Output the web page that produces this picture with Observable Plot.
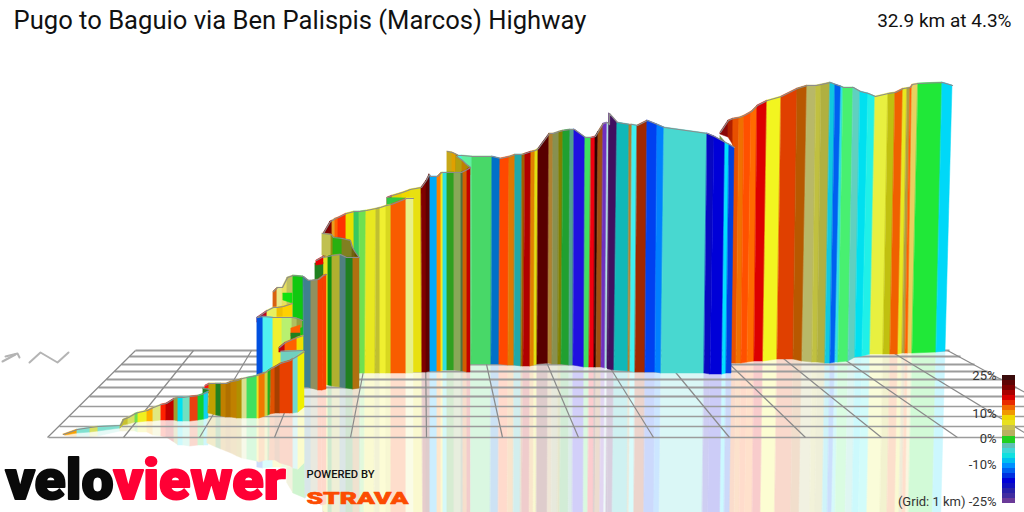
<!DOCTYPE html>
<html><head><meta charset="utf-8">
<style>html,body{margin:0;padding:0;background:#fff;overflow:hidden}svg{display:block}</style>
<script src="https://cdn.jsdelivr.net/npm/d3@7"></script>
<script src="https://cdn.jsdelivr.net/npm/@observablehq/plot@0.6"></script>
</head><body>
<div id="chart"></div>
<script>
// Road walls: vertical edge positions, top and floor heights, segment colours
const cTopX=[733,739,744,751,757,767,781,797,807,816,821,830,835,841,843,853,860,868,875,888,895,903,907,910,912,918,942,952];
const cTopY=[118,117,115,111,105,100,96,88,85,85,84,82,84,86,87,87,91,93,96,93,92,88,87.5,87,84,83,82,85];
const cBaseX=[730,736,741,747,754,763,777,793,802,812,817,825,830,835,838,848,855,862,870,883,890,898,902,905,908,912,936,945];
const cBaseY=[363,363,363,362,361,361,359,359,361,362,362,363,363,362,362,361,357,356,354,354,354,354,353,353,353,353,352,351];
const cFill=["#e85000","#f07000","#ff5000","#ff6a00","#dc0000","#f2f520","#e04000","#b85800","#b8b868","#c0c040","#b0b040","#10c8e0","#0060f0","#30e0e8","#48f070","#60d0c0","#00e0f0","#20f0e8","#e8f040","#c0c010","#f06000","#e8e820","#b0a040","#ff6000","#e8d060","#20e838","#00d8f8"];

const bTopX=[447,452,456,458,462,472,492,500,509,515,522,525,531,535,538,549,553,559,563,570,574,585,591,595,598,603,607,609,609,617,629,632,637,647,657,664,707,714,725,729,734];
const bTopY=[151,152,154,155,155,156,156,158,156,154,154,153,151,150,148,133,133,131,130,129,129,137,137,136,131,123,122,124,113,122,124,124,125,120,124,127,133,136,142,144,147];
const bBaseX=[447,452,456,459,463,471,491,499,508,514,521,523,530,534,537,548,552,558,561,569,573,584,589,594,596,601,605,607,608,614,628,630,635,645,655,661,704,710,722,726,731];
const bBaseY=[364,364,364,364,364,364,364,364,365,365,366,366,366,365,364,363,364,364,364,365,365,367,367,367,367,367,368,368,369,370,371,371,372,372,372,373,373,374,374,373,373];
const bFill=["#c8a818","#e0a000","#b08000","#40f0e0","#60f0a0","#48d868","#0070c8","#ff4800","#e07800","#20a8a8","#a06000","#b00000","#e08000","#e0e010","#580000","#b08030","#889050","#808000","#20a030","#50a090","#2010e0","#40e060","#f00010","#300000","#a05010","#7030c0","#b0e0e0","#401060","#401060","#10b8b8","#b08030","#40f0f0","#a02800","#0040f0","#0080ff","#48d8d0","#0808c0","#0000d8","#00e0ff","#0040e0"];

const dTopX=[387,392,402,410,421,426,429,430,437,441,443,447,454,461,463,467,470];
const dTopY=[197,195,192,189,187,180,174,176,176,172,172,172,172,172,171,169,167];
const dBaseX=[387,392,402,410,422,426,430,430,437,441,443,447,454,461,463,467,470];
const dBaseY=[372,372,372,372,372,372,371,371,371,371,370,370,370,371,371,372,372];
const dFill=["#d02020","#e8d000","#f0d800","#e8e010","#800000","#600000","#600000","#00a8f8","#ff8000","#f0e820","#30e0e0","#30a020","#88a858","#507040","#d06000","#c00000"];

const eTopX=[323,330,332,335,338,346,354,359,366,376,380,386,391,406,413];
const eTopY=[233,221,220,218,217,213,211,211,210,208,207,205,204,198,198];
const eBaseX=[323,330,332,335,338,346,354,360,365,375,380,386,391,406,413];
const eBaseY=[373,373,373,373,373,373,373,373,373,373,373,373,373,373,373];
const eFill=["#800000","#800000","#e8a020","#ff6000","#ff3000","#e8e000","#38c860","#70e050","#e8e820","#c0c030","#f0f030","#d8d820","#f85c00","#e8f088"];

const fTopX=[322,331,333,342,350,352,355,358];
const fTopY=[233,234,237,238,240,247,252,256];
const fBaseY=[255,257,257,258,258,258,258,258];
const fFill=["#c0c050","#909010","#28b010","#808020","#808020","#706010","#605000"];

const gTopX=[323,328,332,340,346,353,359];
const gTopY=[257,256,255,254,257,257,257];
const gBaseY=[384,385,386,387,388,389,388];
const gFill=["#e8e020","#109010","#b0b030","#508080","#208020","#b07010"];

const hTopX=[273,277,282,287,293,303,308,311,318,323,326];
const hTopY=[291,287,287,277,275,276,280,280,279,275,274];
const hBaseX=[273,277,282,287,293,304,308,311,318,322,326];
const hBaseY=[340,340,340,380,384,387,387,388,390,390,389];
const hFill=["#d86010","#e8e888","#e8e060","#c0c060","#10c810","#408090","#408090","#909060","#f84000","#f84000"];

const mTopX=[257,267,273,277,283,292];
const mTopY=[317,310,307,307,306,303];
const mBaseY=[322,320,320,320,320,320];
const mFill=["#c00020","#e8f060","#e8f060","#f0c000","#ffd000"];

const nTopX=[257,263,273,282,292];
const nTopY=[317,316,317,317,317];
const nBaseY=[392,392,392,392,392];
const nFill=["#0050e0","#50f0f0","#f0f030","#b8f070"];

const n2TopX=[292,297,302];
const n2TopY=[317,318,320];
const n2BaseY=[330,329,327];
const n2Fill=["#b0c060","#98a040"];

const qTopX=[279,285,297,303];
const qTopY=[347,342,337,335];
const qBaseY=[352,352,352,352];
const qFill=["#c00010","#ff6000","#f0e000"];

const kTopX=[63,77,90,98,120,123,128,135,138,147,153,161,166,174,178,183,190,198,204,208];
const kTopY=[434,429,427,426,425,419,417,413,412,410,407,404,403,398,397,397,396,395,393,391];
const kBaseX=[65,77,90,98,120,123,128,135,138,147,153,161,166,174,178,183,190,198,204,208];
const kBaseY=[435,433,432,431,428,425,424,422,422,421,421,420,420,420,421,421,421,420,419,418];
const kFill=["#f8a000","#80e0d0","#d8e060","#80e0d0","#c0c030","#c8c030","#d8e060","#70e050","#f0f020","#ffb000","#e0e880","#ff2000","#c00000","#a0a030","#00e0f0","#70e0c0","#e84010","#10d030","#10d0f0"];

const jTopX=[209,216,221,226,231,237,242,247,257,259,265,268,271,275,280,290,293,298,304];
const jTopY=[383,383,383,383,381,380,378,377,375,374,372,370,368,366,363,360,358,355,351];
const jBaseX=[208,216,221,226,231,237,242,247,257,259,265,268,270,275,280,290,293,298,304];
const jBaseY=[413,415,416,417,417,418,418,418,418,418,416,415,414,413,413,413,413,412,407];
const jFill=["#c0a000","#208020","#c08000","#b07000","#c08000","#b09000","#d8e090","#40e060","#f0e020","#f07800","#d0d040","#20b020","#e05000","#a84000","#e84000","#e84000","#70d8d0","#f0f000"];

// small folded pieces of the road: [topX, topY, baseX, baseY, fills]
const patchOlive=[[720,732],[136,150],[720,732],[165,165],["#7a9040"]];
const patchCurl=[[720,728,733],[132,120,118],[720,728,733],[134,137,145],["#8a0808","#b02000"]];
const patchFold=[[456,462,466,470],[156,160,164,167],[456,462,466,470],[175,175,175,175],["#b0a010","#c08000","#a09000"]];
const patchGreen=[[387,406],[197.5,198],[387,406],[225,225],["#30c840"]];
const patchDarkGreen=[[315,323],[263,262],[315,323],[281,290],["#208020"]];
const patchRed=[[316,323],[260,256],[316,323],[265,264],["#e80000"]];
const patchLime=[[283,292],[293,293],[283,292],[300,303],["#10e010"]];
const patchOrange=[[291,300],[328,325],[291,300],[336,336],["#ff6000"]];
const patchMoss=[[291,300],[333,333],[291,300],[340,340],["#208020"]];
const patchTeal=[[281,303],[351,350],[281,303],[366,356],["#70d0c0"]];
const patchTipRed=[[205,209],[385,383],[205,209],[388,388],["#ff1010"]];
const patchTipGreen=[[203,209],[388,389],[203,209],[394,393],["#208020"]];

// floor grid
const gridRowY=[350,356,364,371,379,387,396,406,416,426,437];
const gridRowW=[2,1.8,2,1.8,2,1.8,2,1.6,1.6,1.5,1.5];
const gridLeftX=[135,129,121,114,106,98,89,79,69,59,48];
const gridRightX=[949,960,974,987,1001,1016,1032,1050,1068,1086,1106];
const gridBackX=[135,193,251,309,367,425,483,541,599,657,715,773,831,889,947];
const gridFrontX=[47,123,199,274,350,426,502,578,653,729,805,881,957,1032,1108];

// gradient key
const keyEdges=[375,380,385,390,395,400,405,410,415,420,425,430,436,443,448,453,458,463,468,473,478,483,488,493,498,503];
const keyFill=["#3a0c0c","#5e0404","#7e0000","#a80000","#d80000","#e82a00","#f06800","#f09800","#f0d800","#e8e020","#c8c050","#b8b060","#20d020","#60c0b8","#40d8d8","#10e0e0","#00c0f0","#0090ff","#0060f0","#0030e0","#0000d8","#1010c0","#2820a8","#402ca0","#6a3a98"];
const keyLabel=["25%","10%","0%","-10%","(Grid: 1 km) -25%"];
const keyLabelY=[375,413,438,464,501];

const title=["Pugo to Baguio via Ben Palispis (Marcos) Highway"];
const stats=["32.9 km at 4.3%"];
const arrowX=[2,15],arrowY=[361,354],arrow2X=[5,17,19],arrow2Y=[356,353,357];
const waveX=[29,40,57,68],waveY=[362,352,362,352];

const wallOrder=[
 ["olive",...patchOlive],["curl",...patchCurl],
 ["c",cTopX,cTopY,cBaseX,cBaseY,cFill],
 ["b",bTopX,bTopY,bBaseX,bBaseY,bFill],
 ["fold",...patchFold],
 ["d",dTopX,dTopY,dBaseX,dBaseY,dFill],
 ["green",...patchGreen],
 ["e",eTopX,eTopY,eBaseX,eBaseY,eFill],
 ["f",fTopX,fTopY,fTopX,fBaseY,fFill],
 ["g",gTopX,gTopY,gTopX,gBaseY,gFill],
 ["darkgreen",...patchDarkGreen],["red",...patchRed],
 ["h",hTopX,hTopY,hBaseX,hBaseY,hFill],
 ["lime",...patchLime],
 ["m",mTopX,mTopY,mTopX,mBaseY,mFill],
 ["n",nTopX,nTopY,nTopX,nBaseY,nFill],
 ["n2",n2TopX,n2TopY,n2TopX,n2BaseY,n2Fill],
 ["orange",...patchOrange],["moss",...patchMoss],
 ["q",qTopX,qTopY,qTopX,qBaseY,qFill],
 ["teal",...patchTeal],
 ["tipred",...patchTipRed],["tipgreen",...patchTipGreen],
 ["k",kTopX,kTopY,kBaseX,kBaseY,kFill],
 ["j",jTopX,jTopY,jBaseX,jBaseY,jFill]
];
const mirrored=new Set(["c","b","d","e","g","h","n","k","j"]);

const walls=[],mirror=[],edges=[];
for(const [name,tx,ty,bx,by,fills] of wallOrder){
  tx.forEach((x,i)=>edges.push({run:name,x,y:ty[i]}));
  fills.forEach((c,i)=>{
    const id=name+"-"+i;
    const pale=d3.interpolateRgb("#ffffff",c)(0.2);
    for(const k of [i,i+1]){
      walls.push({id,c,x1:tx[k],y1:ty[k],x2:bx[k],y2:by[k]});
      if(mirrored.has(name)) mirror.push({id,c:pale,x1:bx[k],y1:by[k],x2:2*bx[k]-tx[k],y2:2*by[k]-ty[k]});
    }
  });
}
const rows=gridRowY.map((y,i)=>({y,w:gridRowW[i],l:gridLeftX[i],r:gridRightX[i]}));
const cols=gridBackX.map((b,i)=>({b,f:gridFrontX[i]}));
const key=keyFill.map((c,i)=>({c,y1:keyEdges[i],y2:keyEdges[i+1]}));
const font="Roboto, sans-serif";

const svg=Plot.plot({
  width:1024,height:512,margin:0,
  x:{domain:[0,1024],range:[0,1024],axis:null},
  y:{domain:[0,512],range:[0,512],axis:null},
  color:{type:"identity"},
  marks:[
    Plot.area(mirror,{x1:"x1",y1:"y1",x2:"x2",y2:"y2",z:"id",fill:"c",stroke:"c",strokeWidth:0.5}),
    Plot.link(rows,{x1:"l",x2:"r",y1:"y",y2:"y",stroke:"#9c9c9c",strokeWidth:"w"}),
    Plot.link(cols,{x1:"b",x2:"f",y1:()=>350,y2:()=>437,stroke:"#8a8a8a",strokeWidth:1.2}),
    Plot.line(arrowX.map((x,i)=>({x,y:arrowY[i]})),{x:"x",y:"y",stroke:"#b4b4b4",strokeWidth:2}),
    Plot.line(arrow2X.map((x,i)=>({x,y:arrow2Y[i]})),{x:"x",y:"y",stroke:"#b4b4b4",strokeWidth:2}),
    Plot.line(waveX.map((x,i)=>({x,y:waveY[i]})),{x:"x",y:"y",stroke:"#b4b4b4",strokeWidth:2}),
    Plot.area(walls,{x1:"x1",y1:"y1",x2:"x2",y2:"y2",z:"id",fill:"c",stroke:"c",strokeWidth:0.5}),
    Plot.line(edges.filter(d=>!["olive","green","lime","orange","moss","darkgreen"].includes(d.run)),{x:"x",y:"y",z:"run",stroke:"#8c8c8c",strokeWidth:1.2}),
    Plot.rect(key,{x1:()=>1002,x2:()=>1015,y1:"y1",y2:"y2",fill:"c"}),
    Plot.text(keyLabel,{x:()=>996,y:(d,i)=>keyLabelY[i],text:d=>d,textAnchor:"end",fontFamily:font,fontSize:13,fill:"#333"}),
    Plot.text(title,{x:()=>13,y:()=>20,text:d=>d,textAnchor:"start",fontFamily:font,fontSize:25.6,fill:"#111"}),
    Plot.text(stats,{x:()=>1011,y:()=>20,text:d=>d,textAnchor:"end",fontFamily:font,fontSize:19,fill:"#111"}),
    Plot.text(["velo"],{x:()=>5,y:()=>498,text:d=>d,textAnchor:"start",lineAnchor:"bottom",fontFamily:font,fontWeight:900,fontSize:56,fill:"#0a0a0a",stroke:"#0a0a0a",strokeWidth:2}),
    Plot.text(["viewer"],{x:()=>113,y:()=>498,text:d=>d,textAnchor:"start",lineAnchor:"bottom",fontFamily:font,fontWeight:900,fontSize:56,fill:"#ff0035",stroke:"#ff0035",strokeWidth:2}),
    Plot.text(["POWERED BY"],{x:()=>306,y:()=>477,text:d=>d,textAnchor:"start",lineAnchor:"bottom",fontFamily:font,fontWeight:500,fontSize:10,fill:"#111"}),
    Plot.text(["STRAVA"],{x:()=>306,y:()=>503,text:d=>d,textAnchor:"start",lineAnchor:"bottom",fontFamily:font,fontWeight:900,fontSize:17,fill:"#fc4c02",stroke:"#fc4c02",strokeWidth:0.6})
  ]
});
const fit={"velo":108,"viewer":172,"POWERED BY":68,"STRAVA":102};
svg.querySelectorAll("text").forEach(t=>{
  const w=fit[t.textContent];
  if(w){t.setAttribute("textLength",w);t.setAttribute("lengthAdjust","spacingAndGlyphs");}
});
document.getElementById("chart").appendChild(svg);
</script>
</body></html>
